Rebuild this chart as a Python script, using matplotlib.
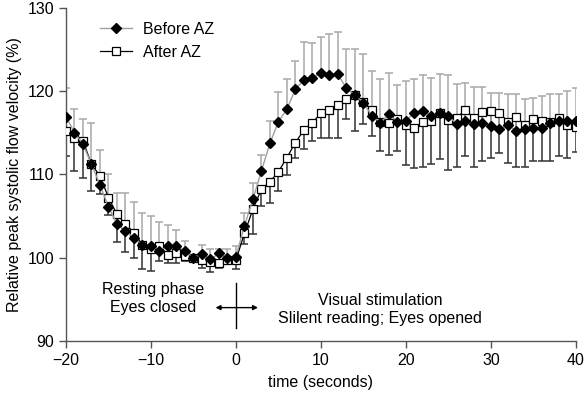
import matplotlib
matplotlib.use("Agg")
import matplotlib.pyplot as plt
import numpy as np

plt.rcParams['font.family'] = ['Liberation Sans', 'DejaVu Sans']

# time axis, one sample per second
time = np.arange(-20, 41)

before_az = [116.9, 115.0, 113.6, 111.2, 108.7, 106.1, 104.0, 103.2, 102.4, 101.5,
             101.4, 100.8, 101.4, 101.4, 100.8, 100.0, 100.4, 99.8, 100.5, 99.9,
             100.1, 103.8, 107.0, 110.4, 113.7, 116.3, 117.8, 120.2, 121.3, 121.5,
             122.2, 121.9, 122.0, 120.3, 119.5, 118.6, 117.0, 116.2, 117.2, 116.3,
             116.4, 117.4, 117.6, 117.0, 117.3, 117.0, 116.0, 116.4, 116.0, 116.2,
             115.8, 115.4, 115.9, 115.2, 115.4, 115.6, 115.6, 116.1, 116.4, 116.4,
             116.4]
before_sd = [3.4, 2.8, 3.0, 5.0, 4.2, 3.9, 3.8, 4.5, 4.3, 3.9,
             3.6, 3.5, 2.5, 1.9, 1.2, 0.3, 1.1, 1.2, 0.5, 1.1,
             1.3, 1.5, 1.9, 1.9, 2.7, 3.6, 3.6, 3.4, 4.6, 4.2,
             4.3, 4.9, 5.1, 4.7, 5.5, 5.8, 5.4, 5.2, 4.9, 4.4,
             4.8, 4.0, 4.3, 4.6, 4.7, 4.9, 4.8, 4.5, 4.5, 4.3,
             3.9, 4.4, 3.7, 4.4, 3.6, 3.6, 3.8, 3.5, 3.2, 3.6,
             3.9]

after_az = [115.2, 114.3, 114.0, 111.2, 109.8, 107.2, 105.2, 104.0, 103.0, 101.5,
            101.0, 101.4, 100.3, 100.5, 100.2, 100.0, 99.7, 99.5, 99.4, 99.7,
            99.7, 102.9, 105.8, 108.2, 109.1, 110.3, 112.0, 113.8, 115.3, 116.2,
            117.3, 117.7, 118.3, 119.0, 119.5, 118.7, 117.7, 116.3, 116.1, 116.6,
            115.9, 115.5, 116.3, 116.4, 117.3, 116.5, 116.8, 117.7, 116.8, 117.5,
            117.6, 117.4, 116.3, 116.9, 115.9, 116.6, 116.4, 116.3, 116.8, 115.9,
            115.7]
after_sd = [3.0, 3.9, 4.4, 3.2, 2.2, 2.1, 3.3, 3.3, 3.1, 2.9,
            2.6, 1.8, 0.9, 1.1, 0.6, 0.2, 1.0, 1.2, 0.6, 0.5,
            1.1, 1.3, 3.0, 2.0, 2.5, 2.3, 2.1, 1.8, 2.3, 2.2,
            2.9, 3.3, 3.9, 2.4, 4.3, 2.7, 3.1, 3.5, 3.8, 3.8,
            4.8, 4.8, 5.4, 5.2, 5.5, 6.0, 5.9, 5.5, 5.9, 5.9,
            5.6, 4.8, 5.0, 6.0, 5.0, 5.0, 4.8, 4.7, 4.6, 3.9,
            3.0]

zeros = np.zeros(len(time))

fig = plt.figure(figsize=(5.86, 3.96), dpi=100)
ax = fig.add_axes([0.1126, 0.139, 0.87, 0.842])

# After AZ: black line, open squares, error bars downwards
ax.errorbar(time, after_az, yerr=[after_sd, zeros], fmt='none',
            ecolor='#333333', elinewidth=1.1, capsize=3.2, capthick=1.1, zorder=2)
ax.plot(time, after_az, color='black', linewidth=0.9, marker='s', markersize=5.2,
        markerfacecolor='white', markeredgecolor='black', markeredgewidth=0.9,
        label='After AZ', zorder=3)

# Before AZ: grey line, black diamonds, error bars upwards
ax.errorbar(time, before_az, yerr=[zeros, before_sd], fmt='none',
            ecolor='#a8a8a8', elinewidth=1.1, capsize=3.2, capthick=1.1, zorder=2)
ax.plot(time, before_az, color='#a0a0a0', linewidth=1.0, marker='D', markersize=4.6,
        markerfacecolor='black', markeredgecolor='black',
        label='Before AZ', zorder=4)

# marker for stimulus onset
ax.plot([0, 0], [91.6, 96.9], color='black', linewidth=1.0)
ax.annotate('', xy=(-2.4, 94.0), xytext=(2.6, 94.0),
            arrowprops=dict(arrowstyle='<|-|>', color='black', lw=1.0,
                            mutation_scale=7, shrinkA=0, shrinkB=0))

ax.text(-9.7, 95.1, 'Resting phase\nEyes closed', ha='center', va='center',
        fontsize=11.5, linespacing=1.25)
ax.text(17.0, 93.8, 'Visual stimulation\nSlilent reading; Eyes opened',
        ha='center', va='center', fontsize=11.5, linespacing=1.25)

ax.set_xlim(-20, 40)
ax.set_ylim(90, 130)
ax.set_xticks([-20, -10, 0, 10, 20, 30, 40])
ax.set_yticks([90, 100, 110, 120, 130])
ax.set_xticklabels(['\u221220', '\u221210', '0', '10', '20', '30', '40'])
ax.set_xlabel('time (seconds)', fontsize=11.5, labelpad=5)
ax.set_ylabel('Relative peak systolic flow velocity (%)', fontsize=11.5, labelpad=4)
ax.tick_params(labelsize=11.5, length=5, width=1.0, color='#555555')

for side in ['top', 'right']:
    ax.spines[side].set_visible(False)
for side in ['left', 'bottom']:
    ax.spines[side].set_color('#555555')
    ax.spines[side].set_linewidth(1.0)

handles, labels = ax.get_legend_handles_labels()
ax.legend(handles[::-1], labels[::-1], loc='upper left', bbox_to_anchor=(0.038, 1.0),
          frameon=False, fontsize=11.5, handlelength=2.0, handletextpad=0.7,
          labelspacing=0.5)

fig.savefig('out.png', dpi=100)
